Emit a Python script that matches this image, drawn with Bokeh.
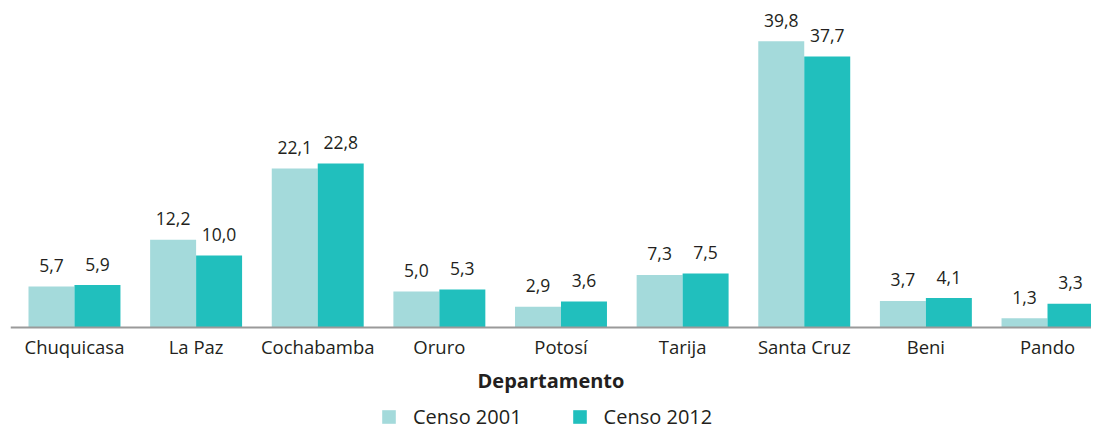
from bokeh.plotting import figure
from bokeh.models import (ColumnDataSource, Range1d, FixedTicker, Legend, LegendItem)
from bokeh.core.properties import value
from bokeh.embed import file_html
from bokeh.resources import INLINE

departamentos = ["Chuquicasa", "La Paz", "Cochabamba", "Oruro", "Potosí",
                 "Tarija", "Santa Cruz", "Beni", "Pando"]
censo_2001 = [5.7, 12.2, 22.1, 5.0, 2.9, 7.3, 39.8, 3.7, 1.3]
censo_2012 = [5.9, 10.0, 22.8, 5.3, 3.6, 7.5, 37.7, 4.1, 3.3]
series_names = ["Censo 2001", "Censo 2012"]
colors = ["#A4DADB", "#21BFBD"]
x_title = "Departamento"

FONT = "Open Sans"
TXT = "#231F20"

idx = list(range(len(departamentos)))
bw = 0.378
src1 = ColumnDataSource(dict(x=[i - bw / 2 for i in idx], top=censo_2001,
                             lab=[f"{v:.1f}".replace(".", ",") for v in censo_2001]))
src2 = ColumnDataSource(dict(x=[i + bw / 2 for i in idx], top=censo_2012,
                             lab=[f"{v:.1f}".replace(".", ",") for v in censo_2012]))

p = figure(frame_width=1081, frame_height=422, output_backend="svg", toolbar_location=None,
           x_range=Range1d(-0.526, 8.3617), y_range=Range1d(-14.33, 44.37),
           min_border_left=10, min_border_right=0, min_border_top=8, min_border_bottom=0)
p.outline_line_color = None
p.grid.visible = False
p.yaxis.visible = False
p.background_fill_color = "white"

r1 = p.vbar(x="x", top="top", width=bw, bottom=0, source=src1, color=colors[0], line_color=None)
r2 = p.vbar(x="x", top="top", width=bw, bottom=0, source=src2, color=colors[1], line_color=None)

for s in (src1, src2):
    p.text(x="x", y="top", text="lab", source=s, text_align="center",
           text_baseline="alphabetic", y_offset=-21, text_color=TXT,
           text_font=value(FONT), text_font_size="17.5px")

ax = p.xaxis[0]
ax.fixed_location = 0
ax.ticker = FixedTicker(ticks=idx)
ax.major_label_overrides = {i: d for i, d in zip(idx, departamentos)}
ax.major_tick_line_color = None
ax.minor_tick_line_color = None
ax.major_tick_out = 0
ax.major_tick_in = 0
ax.axis_line_color = "#9A9A9A"
ax.axis_line_width = 2
ax.major_label_standoff = 7
ax.major_label_text_font = FONT
ax.major_label_text_font_size = "18.5px"
ax.major_label_text_color = TXT
ax.axis_label = x_title
ax.axis_label_text_font = FONT
ax.axis_label_text_font_style = "bold"
ax.axis_label_text_font_size = "20px"
ax.axis_label_text_color = TXT
ax.axis_label_standoff = 4

legend = Legend(items=[LegendItem(label=series_names[0], renderers=[r1]),
                       LegendItem(label=series_names[1], renderers=[r2])],
                location=(370, 0), orientation="horizontal",
                glyph_width=17, glyph_height=17, label_standoff=16,
                spacing=49, padding=0, margin=0,
                label_text_font=FONT, label_text_font_size="20px",
                label_text_color=TXT, border_line_color=None,
                background_fill_alpha=0)
p.add_layout(legend, "center")

open("out.html", "w").write(file_html(p, INLINE))
